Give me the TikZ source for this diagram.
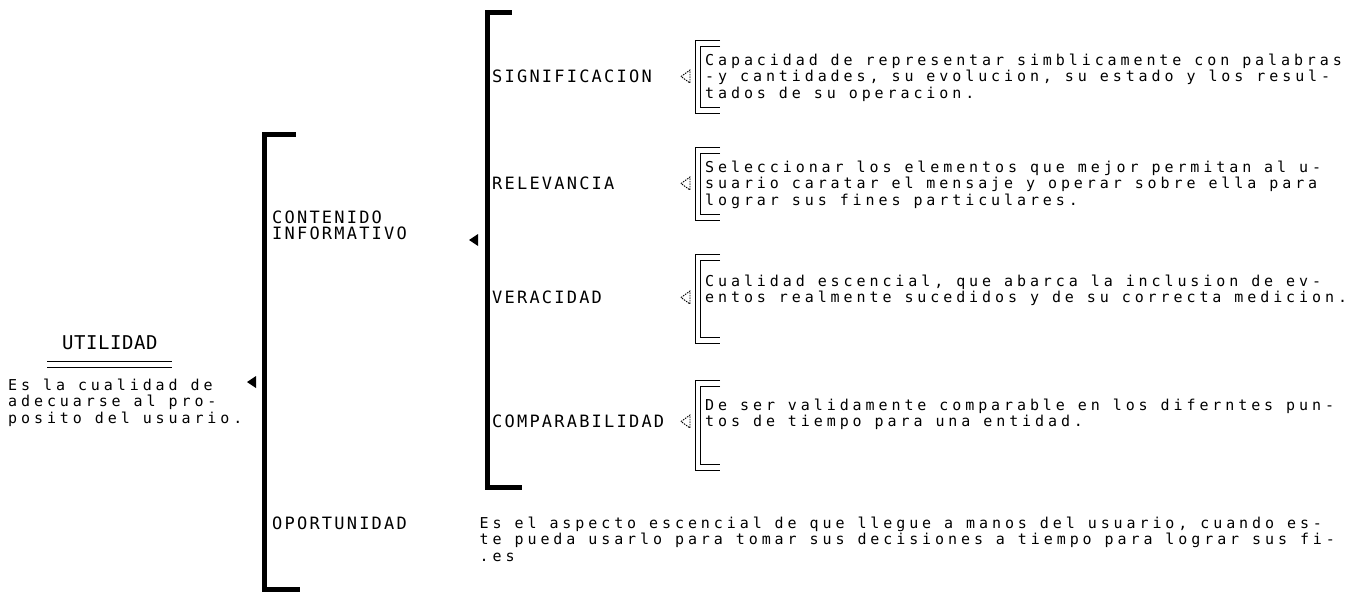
\documentclass[tikz,border=0pt]{standalone}
\usepackage{fontspec}
\newfontfamily\descfont[LetterSpace=26.1]{DejaVu Sans Mono}
\newfontfamily\labfont[LetterSpace=13.0]{DejaVu Sans Mono}
\newfontfamily\titfont[LetterSpace=3]{DejaVu Sans Mono}
\begin{document}
\begin{tikzpicture}[x=1pt,y=-1pt,
  desc/.style={anchor=base west,inner sep=0pt,font=\descfont\fontsize{15}{15}\selectfont},
  lab/.style={anchor=base west,inner sep=0pt,font=\labfont\fontsize{17}{17}\selectfont},
  tit/.style={anchor=base west,inner sep=0pt,font=\titfont\fontsize{19}{19}\selectfont},
  tick/.style={line width=0.9pt},
  hollow/.style={line width=0.9pt,dash pattern=on 1.5pt off 1pt}]
\useasboundingbox (0,0) rectangle (1356,594);
% ---- left block
\node[tit] (util) at (62,349) {UTILIDAD};
\draw[tick] (47,361) coordinate (u1) -- (172,361) coordinate (u2);
\draw[tick] (47,367) coordinate (u3) -- (172,367) coordinate (u4);
\node[desc] (l1) at (8,390) {Es la cualidad de};
\node[desc] (l2) at (8,406.5) {adecuarse al pro-};
\node[desc] (l3) at (8,423) {posito del usuario.};
\coordinate (a1) at (252,382);
\fill (a1) ++(-5,0) -- ++(9,-6) -- ++(0,12) -- cycle;
% ---- bracket 1
\fill (262,132) rectangle (267,592);
\fill (262,132) rectangle (296,137);
\fill (262,587) rectangle (300,592);
\node[lab] (cont) at (272,223) {CONTENIDO};
\node[lab] (info) at (272,239.5) {INFORMATIVO};
\node[lab] (oport) at (272,529) {OPORTUNIDAD};
\coordinate (a2) at (474,240);
\fill (a2) ++(-5,0) -- ++(9,-6) -- ++(0,12) -- cycle;
% ---- bracket 2
\fill (485,10) rectangle (490,490);
\fill (485,10) rectangle (512,15);
\fill (485,485) rectangle (522,490);
\node[lab] (sig) at (492,82.5) {SIGNIFICACION};
\node[lab] (rel) at (492,189.5) {RELEVANCIA};
\node[lab] (ver) at (492,303.5) {VERACIDAD};
\node[lab] (comp) at (492,427.5) {COMPARABILIDAD};
% ---- hollow arrows
\foreach \yy/\nm in {76.5/h1,183.5/h2,297.5/h3,421.5/h4}{
  \coordinate (\nm) at (686,\yy);
  \draw[hollow] (\nm) ++(-5,0) -- ++(9,-6.5) -- ++(0,13) -- cycle;
}
% ---- double brackets
\foreach \T/\B in {40/113,147/220,254/343,380/470}{
  \draw[tick] (720,\T) -- (695,\T) -- (695,\B) -- (720,\B);
  \draw[tick] (720,\T+6) -- (700,\T+6) -- (700,\B-6) -- (720,\B-6);
}
% ---- descriptions
\node[desc] (d1a) at (705,65) {Capacidad de representar simblicamente con palabras};
\node[desc] (d1b) at (705,81.5) {-y cantidades, su evolucion, su estado y los resul-};
\node[desc] (d1c) at (705,98) {tados de su operacion.};
\node[desc] (d2a) at (705,172) {Seleccionar los elementos que mejor permitan al u-};
\node[desc] (d2b) at (705,188.5) {suario caratar el mensaje y operar sobre ella para};
\node[desc] (d2c) at (705,205) {lograr sus fines particulares.};
\node[desc] (d3a) at (705,286) {Cualidad escencial, que abarca la inclusion de ev-};
\node[desc] (d3b) at (705,302.5) {entos realmente sucedidos y de su correcta medicion.};
\node[desc] (d4a) at (705,410) {De ser validamente comparable en los diferntes pun-};
\node[desc] (d4b) at (705,426.5) {tos de tiempo para una entidad.};
\node[desc] (o1) at (479.5,528) {Es el aspecto escencial de que llegue a manos del usuario, cuando es-};
\node[desc] (o2) at (479.5,544.5) {te pueda usarlo para tomar sus decisiones a tiempo para lograr sus fi-};
\node[desc] (o3) at (479.5,561) {.es};
\end{tikzpicture}
\end{document}
